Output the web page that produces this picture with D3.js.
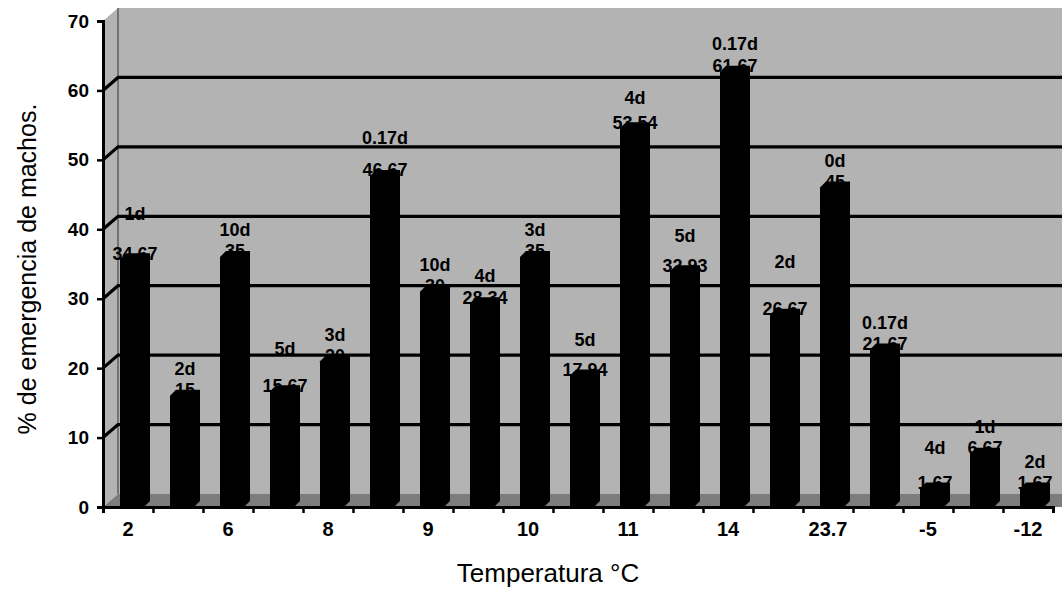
<!DOCTYPE html>
<html>
<head>
<meta charset="utf-8">
<script src="https://cdn.jsdelivr.net/npm/d3@7"></script>
<style>
  html, body { margin: 0; padding: 0; background: #fff; }
  svg { display: block; font-family: "Liberation Sans", Arial, sans-serif; }
</style>
</head>
<body>
<svg id="chart" width="1062" height="589"></svg>
<script>
// ---- data ----
const categories = d3.range(19);
const tickLabels = ["2", "6", "8", "9", "10", "11", "14", "23.7", "-5", "-12"];
const dayLabels = ["1d","2d","10d","5d","3d","0.17d","10d","4d","3d","5d","4d","5d","0.17d","2d","0d","0.17d","4d","1d","2d"];
const values = [34.67, 15, 35, 15.67, 20, 46.67, 30, 28.34, 35, 17.94, 53.54, 32.93, 61.67, 26.67, 45, 21.67, 1.67, 6.67, 1.67];
const yTicks = [0, 10, 20, 30, 40, 50, 60, 70];
// layout: vertical gap (px) between day label and value label
const dayGap = [40, 21, 21, 37, 21, 32, 21, 22, 21, 30, 25, 30, 22, 47, 21, 21, 35, 21, 21];

// ---- layout ----
const W = 1062, H = 589;
const pLeft = 103, pRight = 1053, pBottom = 507, pTop = 21;
const DX = 15, DY = 13;           // wall depth offset
const bdx = 6, bdy = 6;           // bar depth offset

const svg = d3.select("#chart");
const x = d3.scaleBand().domain(categories).range([pLeft, pRight]).paddingInner(0);
const xLin = d3.scaleLinear().domain([0, 19]).range([pLeft, pRight]);
const y = d3.scaleLinear().domain([0, 70]).range([pBottom, pTop]);

const wallFill = "#b3b3b3";
// back wall
svg.append("rect")
  .attr("x", pLeft + DX).attr("y", y(70) - DY)
  .attr("width", W - (pLeft + DX)).attr("height", y(0) - y(70))
  .attr("fill", wallFill);
// left wall
svg.append("path")
  .attr("d", `M${pLeft},${y(0)}L${pLeft + DX},${y(0) - DY}L${pLeft + DX},${y(70) - DY}L${pLeft},${y(70)}Z`)
  .attr("fill", wallFill);
// floor
svg.append("path")
  .attr("d", `M${pLeft},${y(0)}L${pLeft + DX},${y(0) - DY}L${W},${y(0) - DY}L${W},${y(0)}Z`)
  .attr("fill", "#7d7d7d");
// wall edge
svg.append("line")
  .attr("x1", pLeft + DX).attr("x2", pLeft + DX)
  .attr("y1", y(70) - DY).attr("y2", y(0) - DY)
  .attr("stroke", "#333").attr("stroke-width", 1);

// gridlines
svg.append("g").selectAll("path")
  .data(yTicks.filter(t => t > 0 && t < 70))
  .join("path")
  .attr("d", t => `M${pLeft},${y(t)}L${pLeft + DX},${y(t) - DY}L${W},${y(t) - DY}`)
  .attr("fill", "none").attr("stroke", "#000").attr("stroke-width", 3.2);

// bars (3D black columns)
const bw = 24;
svg.append("g").selectAll("path")
  .data(categories)
  .join("path")
  .attr("d", i => {
    const x0 = x(i) + 17, x1 = x0 + bw;
    const yt = y(values[i]) - DY + bdy;
    const yb = y(0);
    return `M${x0},${yb}L${x0},${yt}L${x0 + bdx},${yt - bdy}L${x1 + bdx},${yt - bdy}L${x1 + bdx},${yb - bdy}L${x1},${yb}Z`;
  })
  .attr("fill", "#000");

// value labels
const fmt = v => Number.isInteger(v) ? String(v) : v.toFixed(2);
const lab = svg.append("g").attr("font-weight", "bold").attr("font-size", 18)
  .attr("text-anchor", "middle").attr("fill", "#000");
lab.selectAll("text.v")
  .data(categories)
  .join("text").attr("class", "v")
  .attr("x", i => x(i) + 32)
  .attr("y", i => y(values[i]) - DY)
  .attr("dy", "0.36em")
  .text(i => fmt(values[i]));
lab.selectAll("text.d")
  .data(categories)
  .join("text").attr("class", "d")
  .attr("x", i => x(i) + 32)
  .attr("y", i => y(values[i]) - DY - dayGap[i])
  .attr("dy", "0.36em")
  .text(i => dayLabels[i]);

// y axis
const yAxis = svg.append("g")
  .attr("transform", `translate(${pLeft},0)`)
  .call(d3.axisLeft(y).tickValues(yTicks).tickSize(6).tickPadding(8).tickFormat(d3.format("d")));
yAxis.select(".domain").attr("stroke", "#000").attr("stroke-width", 3);
yAxis.selectAll(".tick line").attr("stroke", "#000").attr("stroke-width", 2.5);
yAxis.selectAll(".tick text").attr("font-size", 19).attr("font-weight", "bold")
  .attr("font-family", "Liberation Sans, Arial, sans-serif").attr("fill", "#000");

// x axis: boundary ticks
const xTickAxis = svg.append("g")
  .attr("transform", `translate(0,${pBottom})`)
  .call(d3.axisBottom(xLin).tickValues(d3.range(20)).tickSize(6).tickFormat(""));
xTickAxis.select(".domain").attr("stroke", "#000").attr("stroke-width", 3);
xTickAxis.selectAll(".tick line").attr("stroke", "#000").attr("stroke-width", 2.5);

// x axis: category labels (every other)
const xLabAxis = svg.append("g")
  .attr("transform", `translate(0,${pBottom})`)
  .call(d3.axisBottom(x).tickValues(categories.filter(i => i % 2 === 0))
    .tickSize(0).tickPadding(15).tickFormat(i => tickLabels[i / 2]));
xLabAxis.select(".domain").remove();
xLabAxis.selectAll(".tick text").attr("font-size", 20).attr("font-weight", "bold")
  .attr("font-family", "Liberation Sans, Arial, sans-serif").attr("fill", "#000");

// axis titles
svg.append("text")
  .attr("x", 548).attr("y", 582)
  .attr("text-anchor", "middle").attr("font-size", 26).attr("fill", "#000")
  .text("Temperatura °C");
svg.append("text")
  .attr("transform", `translate(27,269) rotate(-90)`)
  .attr("text-anchor", "middle").attr("dy", "0.36em").attr("font-size", 25).attr("fill", "#000")
  .text("% de emergencia de machos.");
</script>
</body>
</html>
